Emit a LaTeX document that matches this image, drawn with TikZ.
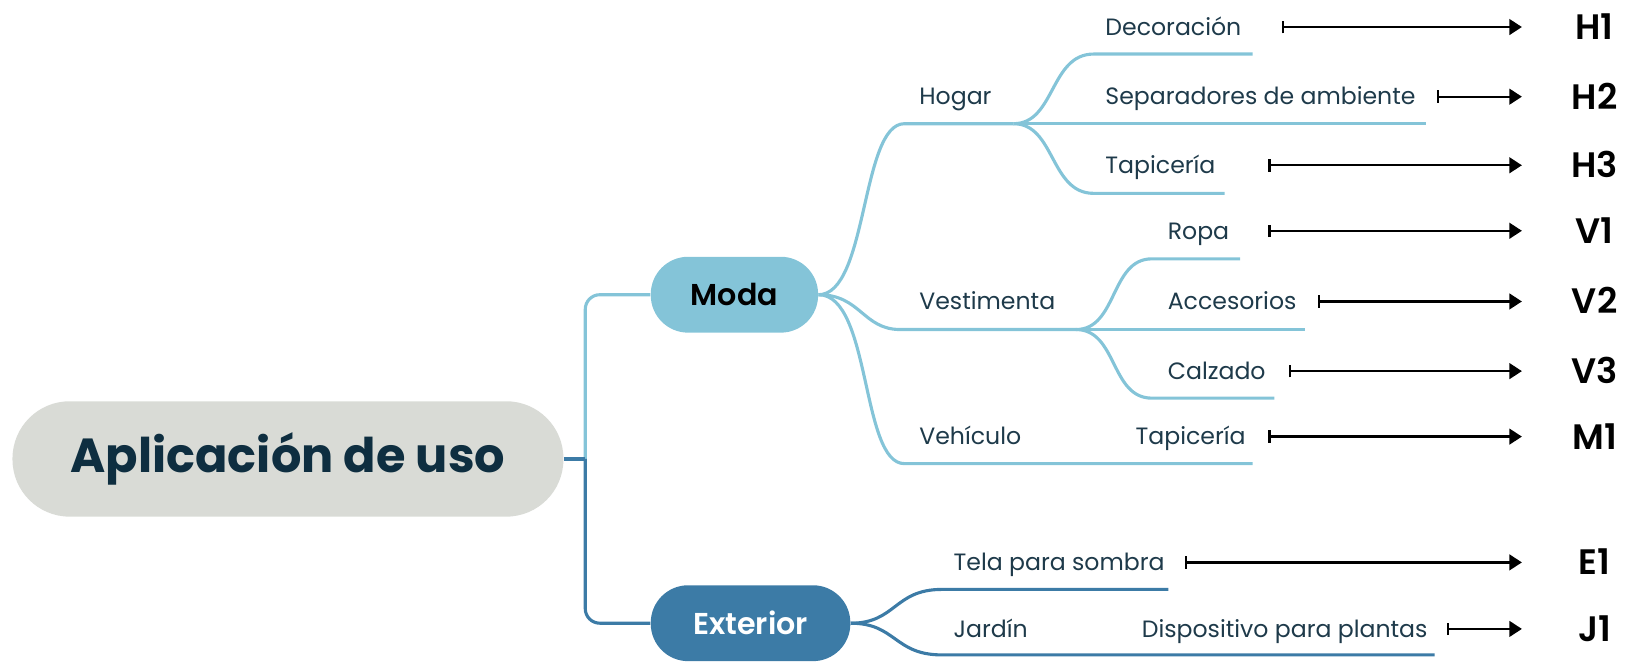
\documentclass[tikz,border=0pt]{standalone}
\usepackage{fontspec}
\setmainfont{Poppins}
\newfontfamily\semib{Poppins SemiBold}
\newfontfamily\boldf{Poppins Bold}
\usetikzlibrary{arrows.meta}
\definecolor{rootfill}{HTML}{D9DBD6}
\definecolor{rootink}{HTML}{0E2E40}
\definecolor{lightb}{HTML}{84C4D8}
\definecolor{darkb}{HTML}{3C7BA6}
\definecolor{txt}{HTML}{1E3A4A}
\begin{document}
\begin{tikzpicture}[x=0.5pt,y=-0.5pt,
  rootbox/.style={fill=rootfill,rounded corners=27.5pt,minimum width=265pt,minimum height=55.5pt,inner sep=0pt,text=rootink,font=\boldf\fontsize{23}{28}\selectfont},
  topicbox/.style={rounded corners=18pt,minimum height=36.5pt,inner sep=0pt,font=\semib\fontsize{14.5}{17}\selectfont},
  lightline/.style={draw=lightb,line width=1.5pt},
  darkline/.style={draw=darkb,line width=1.5pt},
  leaf/.style={anchor=base west,inner sep=0pt,text=txt,font=\fontsize{11.35}{14}\selectfont},
  code/.style={anchor=base,inner sep=0pt,text=black,font=\semib\fontsize{17}{20}\selectfont},
  arr/.style={line width=1.1pt,{Bar[width=6pt]}-{Triangle[length=6pt,width=7.5pt]}}
]
\useasboundingbox (0,0) rectangle (1568,636);

% main nodes
\node[rootbox] (root) at (277,441.5) {Aplicación de uso};
\node[topicbox,fill=lightb,minimum width=80.5pt,text=black] (moda) at (706.5,283.5) {Moda};
\node[topicbox,fill=darkb,minimum width=96pt,text=white] (ext) at (722,599.5) {Exterior};

% root connectors
\coordinate (rj) at (563,441.5);
\draw[lightline,rounded corners=7pt] (rj) |- (moda.west);
\draw[darkline,rounded corners=7pt] (rj) |- (ext.west);
\draw[darkline] (root.east) -- (rj);

% hub coordinates
\coordinate (hogH) at (975,119);
\coordinate (vesH) at (1035,317);

% Moda branches
\draw[lightline] (moda.east) .. controls (835,283.5) and (828,119) .. (870,119) -- (hogH);
\draw[lightline] (moda.east) .. controls (828,283.5) and (830,317) .. (866,317) -- (vesH);
\draw[lightline] (moda.east) .. controls (838,283.5) and (828,446) .. (870,446) -- (1205,446);

% Hogar children
\draw[lightline] (hogH) .. controls (1015,119) and (1010,52) .. (1052,52) -- (1205,52);
\draw[lightline] (hogH) -- (1372,119);
\draw[lightline] (hogH) .. controls (1015,119) and (1010,186) .. (1052,186) -- (1178,186);

% Vestimenta children
\draw[lightline] (vesH) .. controls (1075,317) and (1068,249) .. (1108,249) -- (1193,249);
\draw[lightline] (vesH) -- (1255,317);
\draw[lightline] (vesH) .. controls (1075,317) and (1068,383) .. (1108,383) -- (1226,383);

% Exterior branches
\draw[darkline] (ext.east) .. controls (862,599.5) and (860,567) .. (906,567) -- (1124,567);
\draw[darkline] (ext.east) .. controls (862,599.5) and (860,630) .. (906,630) -- (1380,630);

% texts
\node[leaf] (hogar) at (884,101) {Hogar};
\node[leaf] (dec) at (1063,34) {Decoración};
\node[leaf] (sep) at (1063,101) {Separadores de ambiente};
\node[leaf] (tapa) at (1063,167) {Tapicería};
\node[leaf] (vest) at (884,298) {Vestimenta};
\node[leaf] (ropa) at (1123,230) {Ropa};
\node[leaf] (acc) at (1123,298) {Accesorios};
\node[leaf] (calz) at (1123,365) {Calzado};
\node[leaf] (veh) at (884,428) {Vehículo};
\node[leaf] (tapb) at (1092,428) {Tapicería};
\node[leaf] (tela) at (917,549) {Tela para sombra};
\node[leaf] (jard) at (917,613) {Jardín};
\node[leaf] (disp) at (1098,613) {Dispositivo para plantas};

% codes
\node[code] (h1) at (1534,38) {H1};
\node[code] (h2) at (1534,105) {H2};
\node[code] (h3) at (1534,171) {H3};
\node[code] (v1) at (1534,234) {V1};
\node[code] (v2) at (1534,302) {V2};
\node[code] (v3) at (1534,369) {V3};
\node[code] (m1) at (1534,432) {M1};
\node[code] (e1) at (1534,553) {E1};
\node[code] (j1) at (1534,617) {J1};

% arrows
\coordinate (s1) at (1233,26);  \coordinate (t1) at (1464,26);
\coordinate (s2) at (1382,93);  \coordinate (t2) at (1464,93);
\coordinate (s3) at (1220,159); \coordinate (t3) at (1464,159);
\coordinate (s4) at (1220,222); \coordinate (t4) at (1464,222);
\coordinate (s5) at (1268,290); \coordinate (t5) at (1464,290);
\coordinate (s6) at (1240,357); \coordinate (t6) at (1464,357);
\coordinate (s7) at (1220,420); \coordinate (t7) at (1464,420);
\coordinate (s8) at (1140,541); \coordinate (t8) at (1464,541);
\coordinate (s9) at (1392,605); \coordinate (t9) at (1464,605);
\foreach \i in {1,...,9} { \draw[arr] (s\i) -- (t\i); }
\end{tikzpicture}
\end{document}
